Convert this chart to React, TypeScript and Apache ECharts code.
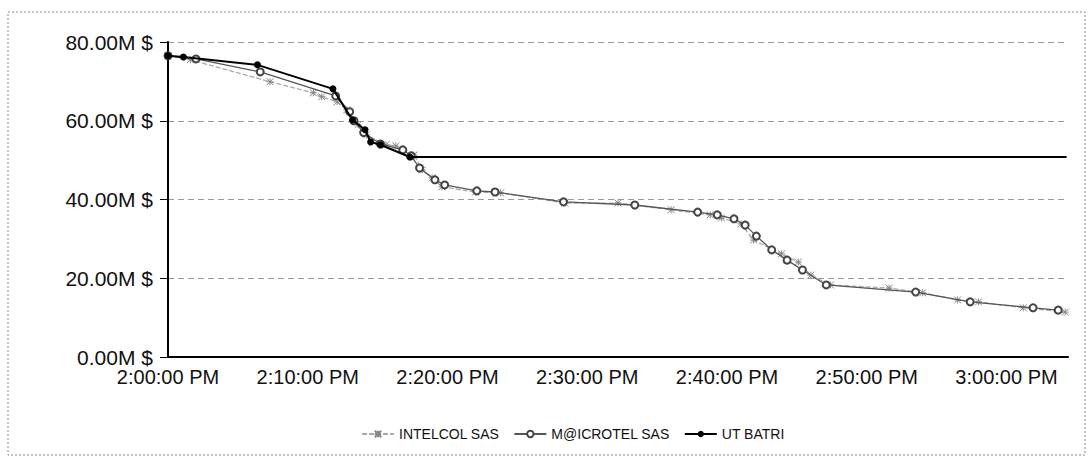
import React, { useEffect, useRef } from "react";
import * as echarts from "echarts";

const seriesNames = ["INTELCOL SAS", "M@ICROTEL SAS", "UT BATRI"];

const intelcolTimes = ["14:00:00","14:01:36","14:07:18","14:10:24","14:11:00","14:12:06","14:12:48","14:13:36","14:14:12","14:15:36","14:16:18","14:17:36","14:18:12","14:18:54","14:19:36","14:22:00","14:23:48","14:28:24","14:32:12","14:36:00","14:38:48","14:39:36","14:41:00","14:41:54","14:43:54","14:45:06","14:46:00","14:47:24","14:51:36","14:54:00","14:56:30","14:58:00","15:01:12","15:04:12"];
const intelcolValues = [76.5,75.5,69.9,67.1,66.1,64.8,62.8,59.0,56.4,53.9,53.6,51.3,47.5,45.5,43.2,41.9,41.7,39.1,39.1,37.4,36.1,35.3,33.8,29.7,26.2,24.1,20.8,18.3,17.5,16.3,14.5,14.0,12.5,11.4];

const microtelTimes = ["14:00:00","14:02:00","14:06:36","14:12:00","14:13:00","14:13:18","14:14:00","14:15:12","14:16:48","14:17:24","14:18:00","14:19:06","14:19:48","14:22:06","14:23:24","14:28:18","14:33:24","14:37:54","14:39:18","14:40:30","14:41:18","14:42:06","14:43:12","14:44:18","14:45:24","14:47:06","14:53:30","14:57:24","15:01:54","15:03:42"];
const microtelValues = [76.5,75.7,72.4,66.3,62.3,60.0,57.0,54.1,52.6,51.1,48.0,45.0,43.7,42.2,41.9,39.4,38.6,36.8,36.1,35.1,33.5,30.7,27.2,24.6,22.1,18.3,16.5,14.0,12.5,11.9];

const batriTimes = ["14:00:00","14:01:06","14:06:24","14:11:48","14:13:12","14:14:06","14:14:30","14:15:12","14:17:18","15:04:18"];
const batriValues = [76.5,76.2,74.2,68.1,60.2,57.7,54.6,53.9,50.8,50.8];

const yTicks = [0, 20, 40, 60, 80];
const startHour = 14;

function toMinutes(t: string): number {
  const [h, m, s] = t.split(":").map(Number);
  return (h - startHour) * 60 + m + s / 60;
}

function minuteLabel(v: number): string {
  const total = Math.round(v * 60);
  let h = startHour + Math.floor(total / 3600);
  const m = Math.floor((total % 3600) / 60);
  const s = total % 60;
  const suffix = h >= 12 ? "PM" : "AM";
  if (h > 12) h -= 12;
  return `${h}:${String(m).padStart(2, "0")}:${String(s).padStart(2, "0")} ${suffix}`;
}

const FONT = "'Liberation Sans', Arial, sans-serif";

export default function App() {
  const ref = useRef<HTMLDivElement>(null);
  useEffect(() => {
    if (!ref.current) return;
    const chart = echarts.init(ref.current, null, { renderer: "svg" });
    const intelData = intelcolTimes.map((t, i) => [toMinutes(t), intelcolValues[i]]);
    const microData = microtelTimes.map((t, i) => [toMinutes(t), microtelValues[i]]);
    const batriData = batriTimes.map((t, i) =>
      i === batriTimes.length - 1
        ? { value: [toMinutes(t), batriValues[i]], symbol: "none" }
        : [toMinutes(t), batriValues[i]]
    );
    chart.setOption({
      animation: false,
      backgroundColor: "#fff",
      textStyle: { fontFamily: FONT },
      graphic: [
        {
          type: "rect",
          shape: { x: 8, y: 12, width: 1077, height: 443 },
          style: { fill: "none", stroke: "#888", lineWidth: 1, lineDash: [2, 2] },
          silent: true,
        },
      ],
      grid: { left: 168, right: 22, top: 42, bottom: 104 },
      legend: {
        data: seriesNames,
        top: 422,
        left: 356,
        itemWidth: 32,
        itemHeight: 8,
        itemGap: 14,
        textStyle: { fontFamily: FONT, fontSize: 14, color: "#111" },
      },
      xAxis: {
        type: "value",
        min: 0,
        max: 64.4,
        interval: 10,
        axisLine: { lineStyle: { color: "#000", width: 2 } },
        axisTick: { show: false },
        splitLine: { show: false },
        axisLabel: {
          fontFamily: FONT,
          fontSize: 20,
          color: "#111",
          margin: 10,
          showMaxLabel: false,
          formatter: (v: number) => minuteLabel(v),
        },
      },
      yAxis: {
        type: "value",
        min: yTicks[0],
        max: yTicks[yTicks.length - 1],
        interval: 20,
        axisLine: { show: true, lineStyle: { color: "#000", width: 2 } },
        axisTick: { show: true, length: 8, lineStyle: { color: "#000" } },
        splitLine: { show: true, lineStyle: { color: "#999", type: [6, 4], width: 1 } },
        axisLabel: {
          fontFamily: FONT,
          fontSize: 21,
          color: "#111",
          margin: 15,
          formatter: (v: number) => `${v.toFixed(2)}M $`,
        },
      },
      series: [
        {
          name: seriesNames[0],
          type: "line",
          data: intelData,
          symbol: "path://M0,0L10,10M10,0L0,10M5,0L5,10M0,5L10,5",
          symbolSize: 7,
          showAllSymbol: true,
          z: 2,
          lineStyle: { color: "#aaa", width: 1.3, type: [5, 2] },
          itemStyle: { color: "#fff", borderColor: "#888", borderWidth: 1 },
        },
        {
          name: seriesNames[1],
          type: "line",
          data: microData,
          symbol: "emptyCircle",
          symbolSize: 7,
          showAllSymbol: true,
          z: 3,
          lineStyle: { color: "#555", width: 1.3 },
          itemStyle: { color: "#444", borderColor: "#444", borderWidth: 1.3 },
        },
        {
          name: seriesNames[2],
          type: "line",
          data: batriData,
          symbol: "circle",
          symbolSize: 7,
          showAllSymbol: true,
          z: 4,
          lineStyle: { color: "#000", width: 2 },
          itemStyle: { color: "#000" },
        },
      ],
    });
    return () => chart.dispose();
  }, []);
  return (
    <div
      ref={ref}
      style={{ position: "fixed", left: 0, top: 0, width: 1090, height: 461 }}
    />
  );
}
